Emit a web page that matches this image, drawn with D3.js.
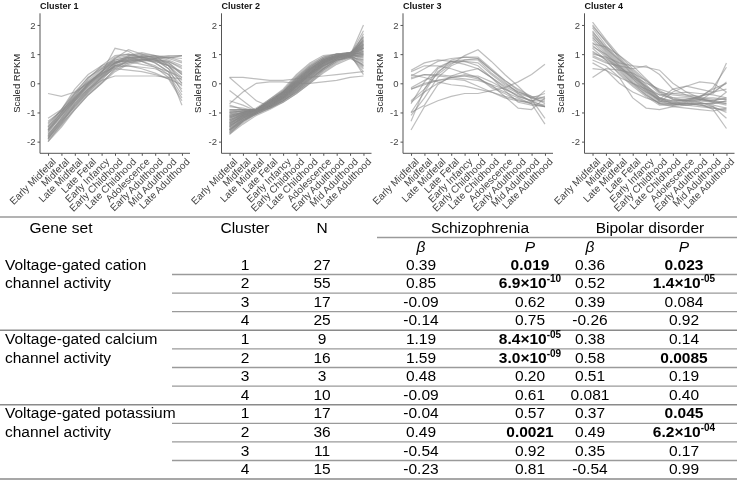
<!DOCTYPE html>
<html><head><meta charset="utf-8">
<script src="https://cdn.jsdelivr.net/npm/d3@7"></script>
<style>
body{margin:0;background:#fff;}
svg{display:block;font-family:"Liberation Sans",Arial,sans-serif;will-change:transform;}
</style></head>
<body><svg id="c" width="737" height="482"></svg>
<script>
const categories = ["Early Midfetal","Midfetal","Late Midfetal","Late Fetal","Early Infancy","Early Childhood","Late Childhood","Adolescence","Early Adulthood","Mid Adulthood","Late Adulthood"];
const yTicks = [-2,-1,0,1,2];
const clusterTitles = ["Cluster 1","Cluster 2","Cluster 3","Cluster 4"];

const cluster1 = [
[-0.35,-0.45,-0.3,0.0,0.3,0.6,0.75,0.8,0.85,0.9,0.95],
[-1.9,-1.3,-0.8,-0.3,0.1,0.6,0.8,0.85,0.8,0.6,0.2],
[-1.8,-1.2,-0.6,-0.1,0.3,0.7,0.9,0.9,0.8,0.5,0.0],
[-2.0,-1.4,-0.9,-0.4,0.0,0.5,0.8,0.9,0.85,0.7,0.3],
[-1.6,-1.0,-0.4,0.1,0.5,0.9,1.0,0.9,0.7,0.4,-0.1],
[-1.5,-0.9,-0.2,0.3,0.6,0.8,0.9,0.8,0.75,0.6,0.4],
[-1.7,-1.1,-0.5,0.0,0.4,0.75,0.85,0.95,0.9,0.8,0.6],
[-1.4,-0.9,-0.3,0.2,0.5,0.7,0.8,0.75,0.6,0.3,-0.4],
[-1.85,-1.35,-0.7,-0.2,0.2,0.6,0.7,0.8,0.85,0.9,0.85],
[-1.75,-1.25,-0.65,-0.15,0.25,0.65,0.85,0.9,0.95,0.85,0.7],
[-1.2,-0.9,-0.35,0.05,0.35,0.55,0.6,0.55,0.5,0.3,-0.2],
[-1.95,-1.45,-0.85,-0.35,0.05,0.45,0.7,0.8,0.85,0.75,0.5],
[-1.65,-1.05,-0.45,0.05,0.45,0.85,1.15,1.0,0.85,0.5,-0.3],
[-1.55,-1.0,-0.55,-0.1,0.3,0.7,0.95,1.05,0.95,0.6,0.1],
[-1.3,-0.95,-0.5,-0.05,0.35,1.2,1.1,0.85,0.7,0.4,-0.75],
[-1.8,-1.3,-0.75,-0.25,0.2,0.65,0.9,0.95,0.9,0.85,0.95],
[-1.45,-1.0,-0.35,0.2,0.55,0.75,0.75,0.65,0.55,0.4,0.2],
[-1.9,-1.35,-0.8,-0.3,0.15,0.55,0.75,0.85,0.8,0.7,0.35],
[-1.6,-1.1,-0.6,-0.2,0.1,0.25,0.25,0.25,0.25,0.2,0.15],
[-1.5,-1.05,-0.5,0.0,0.4,0.8,0.9,0.75,0.55,0.2,-0.5],
[-1.85,-1.25,-0.7,-0.2,0.25,0.6,0.6,0.5,0.35,0.15,-0.6],
[-1.65,-1.15,-0.55,0.0,0.4,0.85,0.95,1.0,0.95,0.9,0.75],
[-1.35,-0.95,-0.45,0.15,0.6,0.95,1.0,0.9,0.8,0.65,0.3],
[-2.0,-1.5,-0.9,-0.4,0.0,0.4,0.65,0.75,0.8,0.75,0.55],
[-1.75,-1.2,-0.6,-0.05,0.35,0.7,0.8,0.8,0.75,0.6,0.0],
[-1.6,-1.1,-0.55,-0.05,0.4,0.7,0.85,0.9,0.9,0.95,0.95],
[-1.9,-1.4,-0.75,-0.25,0.2,0.5,0.45,0.4,0.3,0.15,-0.05]
];

const cluster2 = [
[-1.75,-1.3,-1.0,-0.8,-0.55,-0.2,0.2,0.6,0.85,1.0,1.5],
[-1.6,-1.2,-0.95,-0.75,-0.5,-0.1,0.3,0.7,0.95,1.0,1.3],
[-1.5,-1.15,-0.9,-0.65,-0.35,0.05,0.45,0.8,0.95,1.0,1.2],
[-1.4,-1.1,-0.95,-0.7,-0.45,-0.05,0.35,0.75,0.95,0.95,1.0],
[-1.3,-1.05,-0.9,-0.6,-0.3,0.15,0.55,0.85,0.95,1.0,0.9],
[-1.2,-1.0,-0.85,-0.55,-0.25,0.2,0.6,0.9,1.0,1.05,1.1],
[-1.1,-1.0,-0.9,-0.6,-0.35,0.1,0.5,0.8,0.95,1.05,1.4],
[-1.0,-0.95,-0.95,-0.7,-0.4,0.0,0.4,0.7,0.9,1.0,1.6],
[-0.9,-0.9,-0.9,-0.75,-0.5,-0.15,0.25,0.6,0.85,0.95,1.8],
[-0.8,-0.85,-0.95,-0.8,-0.6,-0.3,0.05,0.45,0.75,0.95,2.0],
[0.2,0.2,0.15,0.1,0.1,0.15,0.2,0.25,0.3,0.35,0.4],
[0.2,-0.2,-0.6,-0.8,-0.55,-0.2,0.15,0.5,0.8,0.9,0.8],
[-0.25,-0.6,-0.95,-0.85,-0.6,-0.3,0.1,0.5,0.8,0.9,0.6],
[-0.6,-0.75,-0.95,-0.7,-0.45,-0.1,0.3,0.65,0.9,1.0,1.2],
[-1.65,-1.3,-1.05,-0.85,-0.6,-0.25,0.15,0.55,0.85,1.0,1.45],
[-1.55,-1.2,-1.0,-0.75,-0.5,-0.15,0.25,0.65,0.9,1.0,1.35],
[-1.45,-1.15,-1.0,-0.7,-0.4,0.0,0.4,0.75,0.9,0.95,0.75],
[-1.35,-1.1,-1.0,-0.65,-0.3,0.1,0.5,0.8,0.95,0.9,0.5],
[-1.25,-1.05,-0.95,-0.6,-0.25,0.25,0.65,0.9,1.0,1.0,1.0],
[-1.15,-1.0,-0.9,-0.55,-0.2,0.3,0.7,0.95,1.0,1.05,1.25],
[-1.05,-1.0,-0.95,-0.65,-0.3,0.2,0.6,0.85,0.95,1.0,1.15],
[-0.95,-0.95,-0.9,-0.7,-0.4,0.05,0.45,0.75,0.9,0.95,0.95],
[-1.7,-1.35,-1.05,-0.85,-0.65,-0.35,0.0,0.4,0.7,0.9,1.55],
[-1.6,-1.25,-1.0,-0.8,-0.6,-0.3,0.05,0.45,0.75,0.95,1.4],
[-1.5,-1.2,-0.95,-0.7,-0.45,-0.05,0.35,0.7,0.9,1.0,1.05],
[-1.4,-1.15,-0.95,-0.65,-0.35,0.1,0.5,0.8,0.95,1.05,1.2],
[-1.3,-1.1,-0.9,-0.6,-0.3,0.05,0.45,0.8,0.95,1.0,0.85],
[-1.2,-1.05,-0.9,-0.65,-0.35,0.0,0.4,0.75,0.95,1.0,0.3],
[-1.1,-1.0,-0.95,-0.75,-0.5,-0.2,0.2,0.55,0.85,1.0,0.6],
[-1.0,-0.95,-1.0,-0.8,-0.55,-0.25,0.1,0.5,0.8,0.95,1.3],
[-0.9,-0.9,-0.95,-0.8,-0.5,-0.1,0.35,0.75,0.95,1.0,1.0],
[-0.7,-0.3,0.0,0.05,0.05,0.0,0.0,0.05,0.1,0.2,0.25],
[-1.65,-1.25,-1.0,-0.75,-0.45,-0.05,0.35,0.7,0.9,0.95,1.1],
[-1.55,-1.25,-1.05,-0.8,-0.55,-0.2,0.2,0.6,0.85,0.95,0.9],
[-1.45,-1.2,-1.0,-0.75,-0.5,-0.1,0.3,0.7,0.95,1.05,1.3],
[-1.35,-1.1,-0.95,-0.7,-0.4,0.05,0.45,0.8,0.95,1.0,1.15],
[-1.25,-1.05,-0.9,-0.6,-0.3,0.15,0.55,0.85,1.0,0.95,0.7],
[-1.15,-1.0,-0.9,-0.6,-0.3,0.1,0.5,0.8,0.95,1.0,1.45],
[-1.05,-0.95,-0.95,-0.7,-0.45,-0.05,0.35,0.7,0.9,1.0,1.6],
[-0.95,-0.9,-0.95,-0.75,-0.5,-0.15,0.25,0.6,0.85,0.95,1.1],
[-1.7,-1.3,-1.0,-0.75,-0.5,-0.1,0.3,0.65,0.9,1.0,1.25],
[-1.6,-1.3,-1.05,-0.85,-0.6,-0.25,0.15,0.5,0.8,0.95,0.95],
[-1.5,-1.15,-0.95,-0.7,-0.4,0.0,0.4,0.75,0.95,1.0,1.35],
[-1.4,-1.1,-0.95,-0.65,-0.35,0.05,0.45,0.8,0.95,1.0,0.8],
[-1.3,-1.05,-0.95,-0.7,-0.4,-0.05,0.35,0.7,0.9,1.0,1.2],
[-1.2,-1.0,-0.9,-0.6,-0.3,0.15,0.55,0.85,1.0,1.05,1.0],
[-1.1,-1.0,-0.9,-0.65,-0.35,0.05,0.45,0.75,0.9,0.95,1.5],
[-1.0,-0.95,-0.9,-0.7,-0.45,-0.1,0.3,0.65,0.85,0.95,0.4],
[-1.75,-1.4,-1.1,-0.9,-0.65,-0.35,0.0,0.35,0.65,0.85,1.7],
[-1.45,-1.2,-1.0,-0.75,-0.45,-0.05,0.35,0.7,0.9,1.0,1.05],
[-1.35,-1.15,-1.0,-0.7,-0.4,0.0,0.4,0.75,0.9,0.95,0.55],
[-1.25,-1.1,-0.95,-0.65,-0.35,0.1,0.5,0.8,0.95,1.0,1.35],
[-0.75,-0.9,-0.9,-0.65,-0.35,0.0,0.35,0.6,0.8,0.85,0.65],
[-1.15,-1.05,-0.95,-0.7,-0.4,-0.05,0.3,0.6,0.8,0.9,1.2],
[-1.6,-1.25,-1.0,-0.7,-0.45,-0.1,0.3,0.65,0.85,0.95,1.25]
];

const cluster3 = [
[0.45,0.7,0.8,0.75,0.65,0.5,0.2,-0.1,-0.35,-0.5,-0.55],
[0.25,0.5,0.75,0.85,0.9,0.85,0.45,0.1,-0.2,-0.45,-0.7],
[0.2,0.3,0.25,0.2,0.15,0.1,-0.05,-0.2,-0.4,-0.6,-0.8],
[-0.15,0.1,0.3,0.65,0.95,1.15,0.75,0.3,-0.1,-0.55,-1.2],
[-0.2,0.0,0.1,0.2,0.3,0.2,-0.1,-0.3,-0.5,-0.7,-0.8],
[-0.6,-0.2,0.35,0.8,0.9,0.9,0.5,0.1,-0.25,-0.5,-0.65],
[-0.7,0.05,0.55,0.75,0.75,0.6,0.2,-0.15,-0.45,-0.6,-0.6],
[-1.0,-0.3,0.4,0.7,0.75,0.7,0.3,-0.05,-0.3,-0.45,-0.5],
[-1.1,-0.5,0.2,0.6,0.8,0.85,0.45,0.05,-0.35,-0.65,-0.75],
[-1.3,-0.2,0.5,0.75,0.8,0.8,0.35,0.0,-0.3,-0.5,-0.35],
[-1.6,-0.8,-0.6,-0.45,-0.35,-0.35,-0.25,-0.15,0.05,0.3,0.65],
[-1.0,-0.75,-0.05,0.25,0.4,0.5,0.2,-0.25,-0.65,-0.75,-0.8],
[0.15,0.3,0.3,0.25,0.25,0.15,-0.05,-0.45,-0.85,-0.9,-0.5],
[-0.2,-0.05,0.1,0.15,0.1,-0.1,-0.3,-0.5,-0.6,-0.65,-0.25],
[0.3,0.2,0.05,-0.05,-0.1,-0.2,-0.3,-0.45,-0.55,-0.7,-1.4],
[-0.65,-0.3,0.0,0.2,0.25,0.25,0.05,-0.2,-0.45,-0.6,-0.45],
[0.4,0.6,0.6,0.5,0.35,0.2,-0.15,-0.35,-0.6,-0.7,-0.8]
];

const cluster4 = [
[2.1,1.5,0.95,0.5,0.1,-0.3,-0.55,-0.6,-0.55,-0.6,-0.7],
[2.0,1.4,0.9,0.4,-0.05,-0.5,-0.7,-0.75,-0.7,-0.7,-0.6],
[1.9,1.3,0.8,0.3,-0.15,-0.55,-0.7,-0.7,-0.65,-0.75,-0.85],
[1.8,1.2,0.7,0.25,-0.2,-0.6,-0.75,-0.65,-0.55,-0.6,-0.5],
[1.7,1.1,0.6,0.15,-0.25,-0.6,-0.65,-0.55,-0.45,-0.3,0.0],
[1.6,1.05,0.55,0.1,-0.3,-0.65,-0.7,-0.6,-0.5,-0.15,0.55],
[1.5,1.0,0.5,0.05,-0.35,-0.7,-0.75,-0.7,-0.6,-0.3,0.7],
[1.4,0.95,0.45,0.0,-0.4,-0.7,-0.7,-0.75,-0.8,-0.85,-0.9],
[1.3,0.9,0.4,0.0,-0.3,-0.55,-0.6,-0.6,-0.65,-0.8,-1.2],
[1.2,0.8,0.3,-0.1,-0.45,-0.75,-0.75,-0.7,-0.7,-0.9,-1.55],
[1.1,0.8,0.5,0.2,-0.1,-0.4,-0.5,-0.5,-0.55,-0.6,-0.65],
[1.0,0.9,0.7,0.6,0.55,0.45,0.0,-0.3,-0.5,-0.65,-0.75],
[0.9,0.7,0.6,0.5,0.6,0.3,-0.2,-0.4,-0.55,-0.65,-0.7],
[0.8,0.6,0.2,-0.5,-0.85,-0.9,-0.8,-0.75,-0.7,-0.7,-0.6],
[0.7,0.45,0.2,0.0,-0.2,-0.4,-0.35,-0.3,-0.35,-0.4,-0.5],
[0.5,0.45,0.0,-0.3,-0.5,-0.65,-0.3,-0.1,0.05,0.0,-0.3],
[0.2,0.5,0.45,0.35,0.1,-0.25,-0.5,-0.6,-0.45,-0.2,0.0],
[1.35,1.25,0.95,0.6,0.15,-0.3,-0.4,-0.45,-0.5,-0.55,-0.55],
[1.95,1.45,0.85,0.35,-0.1,-0.5,-0.65,-0.65,-0.75,-0.85,-0.95],
[1.75,1.25,0.75,0.3,-0.15,-0.5,-0.6,-0.55,-0.5,-0.5,-0.55],
[1.55,1.15,0.65,0.2,-0.2,-0.55,-0.2,-0.1,-0.2,-0.3,-0.2],
[1.25,1.0,0.6,0.15,-0.25,-0.6,-0.65,-0.7,-0.75,-0.8,-1.0],
[1.05,0.85,0.55,0.25,0.0,-0.2,-0.35,-0.4,-0.45,-0.35,0.05],
[0.95,0.75,0.35,-0.05,-0.4,-0.7,-0.8,-0.85,-0.9,-0.95,-0.85],
[1.65,1.2,0.8,0.45,0.05,-0.35,-0.55,-0.6,-0.6,-0.65,-0.3]
];
const clusters = [cluster1, cluster2, cluster3, cluster4];

// Table data
const geneSets = [["Voltage-gated cation","channel activity"],["Voltage-gated calcium","channel activity"],["Voltage-gated potassium","channel activity"]];
const clusterIds = [1,2,3,4,1,2,3,4,1,2,3,4];
const nValues = [27,55,17,25,9,16,3,10,17,36,11,15];
const sczBeta = ["0.39","0.85","-0.09","-0.14","1.19","1.59","0.48","-0.09","-0.04","0.49","-0.54","-0.23"];
const sczP = ["0.019","6.9×10^-10","0.62","0.75","8.4×10^-05","3.0×10^-09","0.20","0.61","0.57","0.0021","0.92","0.81"];
const sczSig = [1,1,0,0,1,1,0,0,0,1,0,0];
const bipBeta = ["0.36","0.52","0.39","-0.26","0.38","0.58","0.51","0.081","0.37","0.49","0.35","-0.54"];
const bipP = ["0.023","1.4×10^-05","0.084","0.92","0.14","0.0085","0.19","0.40","0.045","6.2×10^-04","0.17","0.99"];
const bipSig = [1,1,0,0,0,1,0,0,1,1,0,0];

const svg = d3.select("#c");

// ---------- small multiples ----------
const panelLefts = [40, 221.5, 403, 584.5];
const panelW = 150;
const y = d3.scaleLinear().domain([-2.4, 2.4]).range([153.3, 13.3]);
const axisCol = "#444";

clusters.forEach((data, k) => {
  const x0 = panelLefts[k];
  const x = d3.scalePoint().domain(categories).range([x0, x0 + panelW]).padding(0.6);
  const g = svg.append("g");
  const line = d3.line().x((d, i) => x(categories[i])).y(d => y(d));
  g.append("g").selectAll("path").data(data).join("path")
    .attr("d", line).attr("fill", "none")
    .attr("stroke", "#888").attr("stroke-opacity", 0.55).attr("stroke-width", 1.2);

  const ya = g.append("g").attr("transform", `translate(${x0},0)`)
    .call(d3.axisLeft(y).tickValues(yTicks).tickSize(2.5).tickPadding(2).tickFormat(d => String(d)));
  const xa = g.append("g").attr("transform", `translate(0,${y.range()[0]})`)
    .call(d3.axisBottom(x).tickSize(2.5).tickSizeOuter(0));
  [ya, xa].forEach(a => {
    a.select(".domain").attr("stroke", "#555").attr("stroke-width", 1);
    a.selectAll(".tick line").attr("stroke", "#555");
    a.selectAll("text").attr("fill", axisCol).attr("font-size", 9.5).attr("font-family", "Liberation Sans, Arial, sans-serif");
  });
  xa.selectAll("text").attr("font-size", 10);
  ya.select(".domain").attr("d", `M0,${y.range()[1]}V${y.range()[0]}`);
  xa.select(".domain").attr("d", `M${x0},0H${x0 + panelW}`);
  xa.selectAll(".tick text")
    .attr("text-anchor", "end")
    .attr("transform", "translate(3,4) rotate(-45)")
    .attr("x", 0).attr("y", 0).attr("dy", "0.71em");

  g.append("text").attr("x", x0 - 20).attr("y", y(0))
    .attr("transform", `rotate(-90,${x0 - 20},${y(0)})`)
    .attr("text-anchor", "middle").attr("font-size", 9.5).attr("fill", "#222")
    .text("Scaled RPKM");
  g.append("text").attr("x", x0).attr("y", 8.5)
    .attr("font-size", 9).attr("font-weight", "bold").attr("fill", "#111")
    .text(clusterTitles[k]);
});

// ---------- table ----------
const fs = 15.5;
const colX = {gene: 5, cluster: 245, n: 322, sb: 421, sp: 530, bb: 590, bp: 684};
const rowStep = 18.6;
const firstBase = 269.5;
const rowBase = d3.range(12).map(i => firstBase + i * rowStep);
const lineCol = "#9a9a9a";

const t = svg.append("g").attr("font-size", fs).attr("fill", "#000");

function hline(x1, x2, yy, col, w) {
  t.append("line").attr("x1", x1).attr("x2", x2).attr("y1", yy).attr("y2", yy)
    .attr("stroke", col || lineCol).attr("stroke-width", w || 1.3);
}
hline(0, 737, 217);
t.append("text").attr("x", 61).attr("y", 233).attr("text-anchor", "middle").text("Gene set");
t.append("text").attr("x", colX.cluster).attr("y", 233).attr("text-anchor", "middle").text("Cluster");
t.append("text").attr("x", colX.n).attr("y", 233).attr("text-anchor", "middle").text("N");
t.append("text").attr("x", 480).attr("y", 233).attr("text-anchor", "middle").text("Schizophrenia");
t.append("text").attr("x", 650).attr("y", 233).attr("text-anchor", "middle").text("Bipolar disorder");
hline(377, 737, 237.5);
[["β", colX.sb], ["P", colX.sp], ["β", colX.bb], ["P", colX.bp]].forEach(([s, xx]) => {
  t.append("text").attr("x", xx).attr("y", 252).attr("text-anchor", "middle").attr("font-style", "italic").text(s);
});

function pText(str, xx, yy, bold) {
  const el = t.append("text").attr("x", xx).attr("y", yy).attr("text-anchor", "middle")
    .attr("font-weight", bold ? "bold" : "normal");
  const parts = str.split("^");
  el.append("tspan").text(parts[0]);
  if (parts.length > 1) {
    el.append("tspan").attr("dy", -6).attr("font-size", 10).text(parts[1]);
  }
}

rowBase.forEach((yy, i) => {
  t.append("text").attr("x", colX.cluster).attr("y", yy).attr("text-anchor", "middle").text(clusterIds[i]);
  t.append("text").attr("x", colX.n).attr("y", yy).attr("text-anchor", "middle").text(nValues[i]);
  t.append("text").attr("x", colX.sb).attr("y", yy).attr("text-anchor", "middle").text(sczBeta[i]);
  pText(sczP[i], colX.sp, yy, sczSig[i]);
  t.append("text").attr("x", colX.bb).attr("y", yy).attr("text-anchor", "middle").text(bipBeta[i]);
  pText(bipP[i], colX.bp, yy, bipSig[i]);
  const groupEnd = i % 4 === 3;
  hline(groupEnd ? 0 : 172, 737, yy + 5, groupEnd ? "#8a8a8a" : lineCol, groupEnd ? 1.5 : 1.3);
});
geneSets.forEach((gs, k) => {
  gs.forEach((s, j) => {
    t.append("text").attr("x", colX.gene).attr("y", rowBase[k * 4 + j]).text(s);
  });
});
</script></body></html>
